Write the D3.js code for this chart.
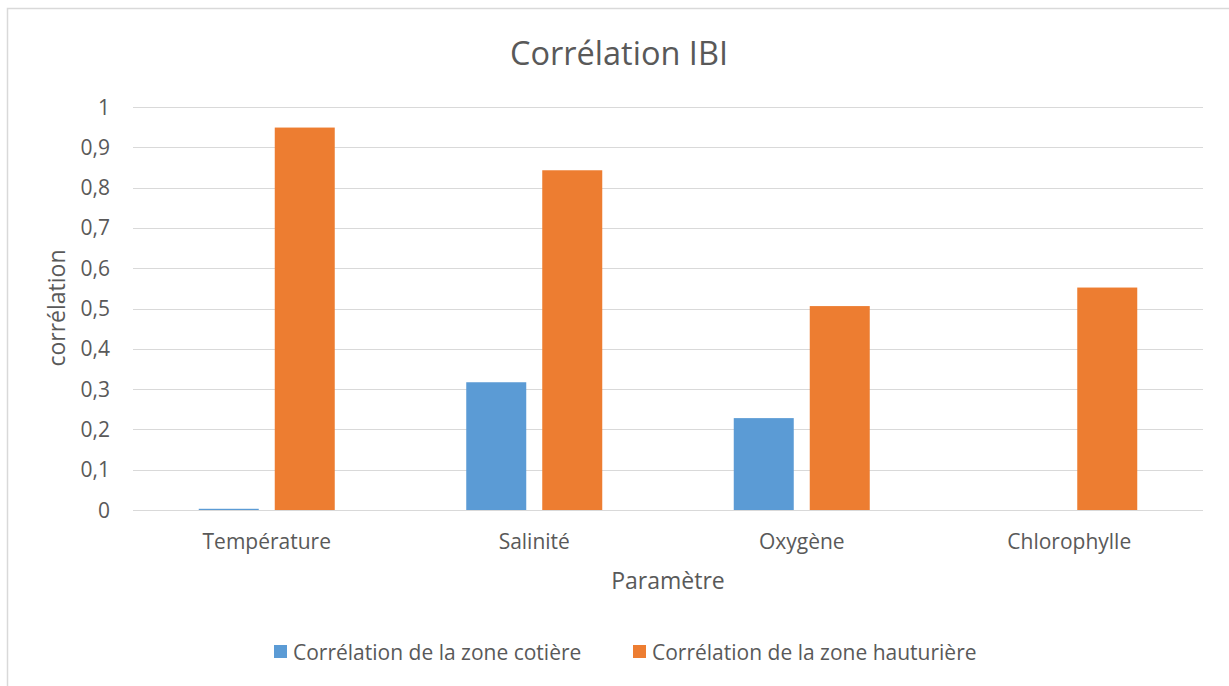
<!DOCTYPE html>
<html>
<head>
<meta charset="utf-8">
<script src="https://cdn.jsdelivr.net/npm/d3@7"></script>
<style>
  body { margin: 0; background: #fff; }
  text { font-family: "Open Sans", sans-serif; fill: #595959; }
</style>
</head>
<body>
<div id="chart"></div>
<script>
// data
var categories = ["Température", "Salinité", "Oxygène", "Chlorophylle"];
var seriesNames = ["Corrélation de la zone cotière", "Corrélation de la zone hauturière"];
var cotiere = [0.003, 0.317, 0.228, 0];
var hauturiere = [0.949, 0.843, 0.506, 0.552];
var yTicks = [0, 0.1, 0.2, 0.3, 0.4, 0.5, 0.6, 0.7, 0.8, 0.9, 1];
var colors = ["#5B9BD5", "#ED7D31"];

var W = 1229, H = 686;
var margin = { top: 107, right: 26, bottom: 176, left: 133 },
    width = W - margin.left - margin.right,
    height = H - margin.top - margin.bottom;

var root = d3.select("#chart").append("svg")
    .attr("width", W)
    .attr("height", H);

// chart frame
root.append("rect")
    .attr("x", 7.5).attr("y", 8.5)
    .attr("width", W + 20).attr("height", H + 20)
    .attr("fill", "#fff")
    .attr("stroke", "#D9D9D9")
    .attr("stroke-width", 1.5);

var svg = root.append("g")
    .attr("transform", "translate(" + margin.left + "," + margin.top + ")");

var x0 = d3.scaleBand().domain(categories).range([0, width]);
var x1 = d3.scaleBand().domain(seriesNames)
    .range([(x0.bandwidth() - 136) / 2, (x0.bandwidth() + 136) / 2])
    .paddingInner(16 / 76);
var y = d3.scaleLinear().domain([0, 1]).range([height, 0]);

// gridlines
svg.append("g")
    .selectAll("line")
    .data(yTicks)
    .enter()
    .append("line")
    .attr("x1", 0).attr("x2", width)
    .attr("y1", d => Math.round(y(d)) + 0.5)
    .attr("y2", d => Math.round(y(d)) + 0.5)
    .attr("stroke", "#D9D9D9")
    .attr("stroke-width", 1.2);

// y tick labels
var fmt = d => d3.format(".1~f")(d).replace(".", ",");
svg.append("g")
    .selectAll("text")
    .data(yTicks)
    .enter()
    .append("text")
    .attr("x", -23)
    .attr("y", d => y(d))
    .attr("dy", "0.36em")
    .attr("text-anchor", "end")
    .style("font-size", "21px")
    .text(fmt);

// bars
var rows = categories.map((c, i) => ({ cat: c, vals: [cotiere[i], hauturiere[i]] }));
var groups = svg.append("g")
    .selectAll("g")
    .data(rows)
    .enter()
    .append("g")
    .attr("transform", d => "translate(" + x0(d.cat) + ",0)");

groups.selectAll("rect")
    .data(d => d.vals.map((v, j) => ({ s: seriesNames[j], v: v, j: j })))
    .enter()
    .append("rect")
    .attr("x", d => x1(d.s))
    .attr("width", x1.bandwidth())
    .attr("y", d => y(d.v))
    .attr("height", d => y(0) - y(d.v))
    .attr("fill", d => colors[d.j]);

// category labels
svg.append("g")
    .selectAll("text")
    .data(categories)
    .enter()
    .append("text")
    .attr("x", d => x0(d) + x0.bandwidth() / 2)
    .attr("y", height + 39)
    .attr("text-anchor", "middle")
    .style("font-size", "21px")
    .text(d => d);

// title
root.append("text")
    .attr("x", 619)
    .attr("y", 65)
    .attr("text-anchor", "middle")
    .style("font-size", "32.5px")
    .text("Corrélation IBI");

// axis titles
root.append("text")
    .attr("x", 668)
    .attr("y", 589)
    .attr("text-anchor", "middle")
    .style("font-size", "23px")
    .text("Paramètre");

root.append("text")
    .attr("transform", "translate(65,308) rotate(-90)")
    .attr("text-anchor", "middle")
    .style("font-size", "23px")
    .text("corrélation");

// legend
var legendX = [274, 633];
var legend = root.append("g")
    .selectAll("g")
    .data(seriesNames)
    .enter()
    .append("g")
    .attr("transform", (d, i) => "translate(" + legendX[i] + ",645)");
legend.append("rect")
    .attr("width", 13).attr("height", 13)
    .attr("fill", (d, i) => colors[i]);
legend.append("text")
    .attr("x", 19)
    .attr("y", 7)
    .attr("dy", "0.36em")
    .style("font-size", "21px")
    .text(d => d);
</script>
</body>
</html>
